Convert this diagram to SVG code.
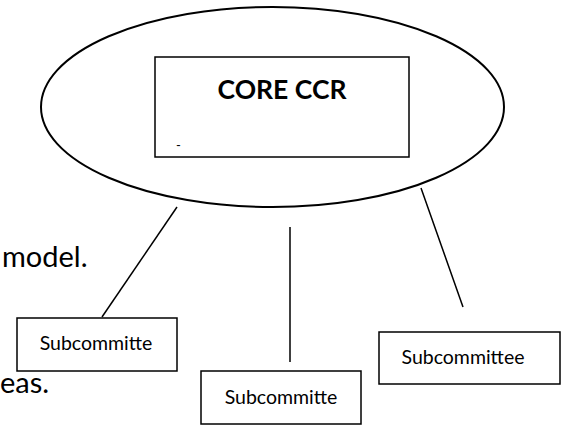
<svg xmlns="http://www.w3.org/2000/svg" width="566" height="426" viewBox="0 0 566 426">
<style>
.ln{stroke:#000;stroke-width:1.5;fill:none}
.bx{stroke:#000;stroke-width:1.5;fill:#fff}
.t{font-family:Lato,"Open Sans","Liberation Sans",sans-serif;fill:#000}
.sub{font-size:19.5px;text-anchor:middle}
.body{font-size:29px}
</style>
<rect width="566" height="426" fill="#fff"/>
<text class="t body" x="2" y="267">model.</text>
<text class="t body" x="0" y="393">eas.</text>
<g id="connectors">
<line class="ln" x1="177" y1="207" x2="102" y2="317"/>
<line class="ln" x1="290" y1="227" x2="290" y2="362"/>
<line class="ln" x1="421" y1="188" x2="463" y2="307"/>
</g>
<g id="core">
<ellipse cx="272.5" cy="107" rx="231.5" ry="100" style="stroke:#000;stroke-width:2;fill:none"/>
<rect class="bx" x="155" y="57" width="254" height="100"/>
<text class="t" x="282" y="99" font-size="26.5" font-weight="bold" text-anchor="middle">CORE CCR</text>
<text class="t" x="176" y="150" font-size="13">-</text>
</g>
<g id="sub1">
<rect class="bx" x="17" y="318" width="160" height="53"/>
<text class="t sub" x="96" y="350">Subcommitte</text>
</g>
<g id="sub2">
<rect class="bx" x="201" y="371" width="160" height="53"/>
<text class="t sub" x="281" y="404">Subcommitte</text>
</g>
<g id="sub3">
<rect class="bx" x="379" y="332" width="181" height="52"/>
<text class="t sub" x="463" y="364">Subcommittee</text>
</g>
</svg>
